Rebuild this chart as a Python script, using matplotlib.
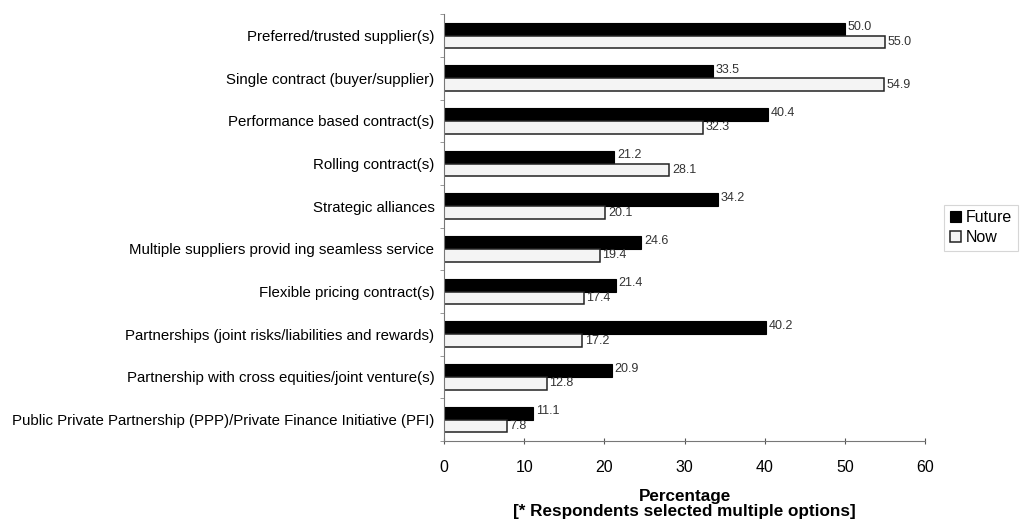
import numpy as np
import matplotlib.pyplot as plt

plt.rcParams['font.family'] = ['Liberation Sans', 'DejaVu Sans']

categories = [
    "Preferred/trusted supplier(s)",
    "Single contract (buyer/supplier)",
    "Performance based contract(s)",
    "Rolling contract(s)",
    "Strategic alliances",
    "Multiple suppliers provid ing seamless service",
    "Flexible pricing contract(s)",
    "Partnerships (joint risks/liabilities and rewards)",
    "Partnership with cross equities/joint venture(s)",
    "Public Private Partnership (PPP)/Private Finance Initiative (PFI)",
]
future = [50.0, 33.5, 40.4, 21.2, 34.2, 24.6, 21.4, 40.2, 20.9, 11.1]
now = [55.0, 54.9, 32.3, 28.1, 20.1, 19.4, 17.4, 17.2, 12.8, 7.8]

fig = plt.figure(figsize=(10.21, 5.28), dpi=100)
ax = fig.add_axes([0.435, 0.165, 0.471, 0.808])

y = np.arange(len(categories))[::-1].astype(float)
h = 0.3
ax.barh(y + h / 2, future, height=h, color='black', edgecolor='black',
        linewidth=0.8, label='Future')
ax.barh(y - h / 2, now, height=h, color='#f4f4f4', edgecolor='#222222',
        linewidth=1.1, label='Now')

for yi, f, n in zip(y, future, now):
    ax.text(f + 0.35, yi + h / 2 + 0.04, f"{f:.1f}", va='center', ha='left',
            fontsize=9, color='#333333')
    ax.text(n + 0.35, yi - h / 2, f"{n:.1f}", va='center', ha='left',
            fontsize=9, color='#333333')

ax.set_xlim(0, 60)
ax.set_ylim(-0.5, len(categories) - 0.5)
ax.set_xticks(np.arange(0, 61, 10))
ax.tick_params(axis='x', labelsize=11.5, length=4, direction='inout',
               color='#555555', pad=12)
ax.set_yticks(y)
ax.set_yticklabels(categories, fontsize=10.8)
ax.tick_params(axis='y', length=0, pad=7)
ax.set_yticks(np.arange(-0.5, len(categories), 1.0), minor=True)
ax.tick_params(axis='y', which='minor', length=3, color='#888888')

for s in ['top', 'right']:
    ax.spines[s].set_visible(False)
ax.spines['left'].set_color('#777777')
ax.spines['bottom'].set_color('#777777')

ax.set_xlabel("Percentage\n[* Respondents selected multiple options]",
              fontsize=12.3, fontweight='bold', labelpad=10, linespacing=1.0)

leg = ax.legend(loc='center left', bbox_to_anchor=(1.04, 0.5),
                fontsize=11.5, frameon=True, fancybox=False, handlelength=0.7,
                handleheight=0.7, handletextpad=0.3, borderpad=0.35,
                labelspacing=0.3, borderaxespad=0)
leg.get_frame().set_edgecolor('#cccccc')
leg.get_frame().set_linewidth(0.8)

fig.savefig('out.png', dpi=100)
